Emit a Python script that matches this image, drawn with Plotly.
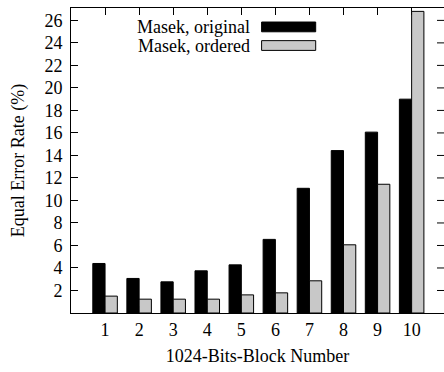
import plotly.graph_objects as go

blocks = [1, 2, 3, 4, 5, 6, 7, 8, 9, 10]
masek_original = [4.4, 3.07, 2.77, 3.75, 4.28, 6.54, 11.08, 14.43, 16.07, 19.0]
masek_ordered = [1.5, 1.23, 1.23, 1.23, 1.61, 1.79, 2.86, 6.06, 11.44, 26.8]
y_ticks = [2, 4, 6, 8, 10, 12, 14, 16, 18, 20, 22, 24, 26]

FONT = "Liberation Serif"
FS = 18
GRAY = "#c8c8c8"
PLOT_W = 373  # plot-area width in px (444 - left margin)

fig = go.Figure()
fig.add_trace(go.Bar(x=blocks, y=masek_original, name="Masek, original",
                     marker=dict(color="black", line=dict(color="black", width=1))))
fig.add_trace(go.Bar(x=blocks, y=masek_ordered, name="Masek, ordered",
                     marker=dict(color=GRAY, line=dict(color="black", width=1))))

# gnuplot-style key: right-aligned text with the sample box on its right
key_rows = [("Masek, original", "black", 0.938), ("Masek, ordered", GRAY, 0.877)]
for label, color, yc in key_rows:
    fig.add_annotation(xref="paper", yref="paper", x=0.478, y=yc, text=label,
                       showarrow=False, xanchor="right", yanchor="middle",
                       xshift=3, font=dict(family=FONT, size=FS, color="black"))
    fig.add_shape(type="rect", xref="paper", yref="paper",
                  x0=0.511, x1=0.656, y0=yc - 0.016, y1=yc + 0.016,
                  fillcolor=color, line=dict(color="black", width=1))

# right-hand tick marks; the frame's right edge lies just past the figure
for v in y_ticks:
    fig.add_shape(type="line", xref="paper", yref="y", layer="below",
                  x0=1 - 7 / PLOT_W, x1=1, y0=v, y1=v,
                  line=dict(color="black", width=1))

fig.update_layout(
    width=444, height=372,
    margin=dict(l=71, r=0, t=8, b=59),
    paper_bgcolor="white", plot_bgcolor="white",
    barmode="group", bargap=0.28, bargroupgap=0,
    showlegend=False,
    font=dict(family=FONT, size=FS, color="black"),
)
fig.update_xaxes(
    range=[0, 10.95], tickmode="array", tickvals=blocks, ticktext=[str(b) for b in blocks],
    ticks="inside", ticklen=7, tickcolor="black", showline=True, linecolor="black",
    linewidth=1, mirror="ticks", showgrid=False, zeroline=False, layer="below traces",
    title=dict(text="1024-Bits-Block Number", font=dict(family=FONT, size=FS), standoff=10),
)
fig.update_yaxes(
    range=[0, 27.1], tickmode="array", tickvals=y_ticks,
    ticks="inside", ticklen=7, tickcolor="black", showline=True, linecolor="black",
    linewidth=1, mirror=False, showgrid=False, zeroline=False, layer="below traces",
    ticklabelstandoff=4,
    title=dict(text="Equal Error Rate (%)", font=dict(family=FONT, size=FS), standoff=15),
)

fig.write_html("out.html")
